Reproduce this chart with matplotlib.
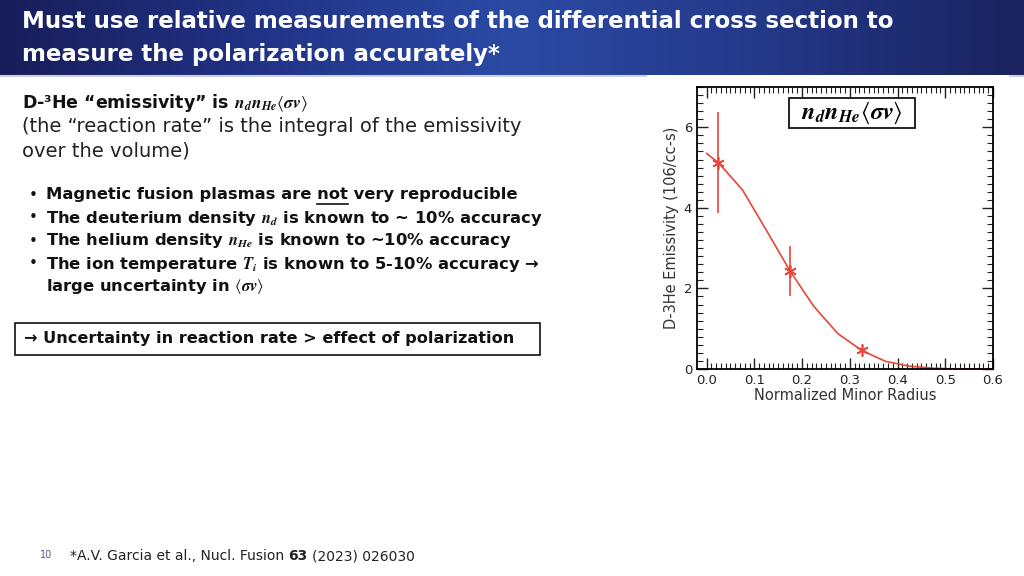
import numpy as np
import matplotlib.pyplot as plt
from matplotlib.colors import LinearSegmentedColormap

plt.rcParams['mathtext.fontset'] = 'stix'

# emissivity profile
radius = [0.0, 0.025, 0.075, 0.125, 0.175, 0.225, 0.275, 0.325, 0.375, 0.425, 0.475, 0.525, 0.575, 0.6]
emissivity = [5.35, 5.12, 4.45, 3.45, 2.43, 1.55, 0.88, 0.46, 0.19, 0.07, 0.02, 0.0, 0.0, 0.0]

# measured points with error bars
meas_r = [0.025, 0.175, 0.325]
meas_y = [5.12, 2.43, 0.46]
meas_err = [1.25, 0.62, 0.05]

title_lines = ["Must use relative measurements of the differential cross section to",
               "measure the polarization accurately*"]
bullets = [r"Magnetic fusion plasmas are not very reproducible",
           r"The deuterium density $\mathbfit{n_d}$ is known to ~ 10% accuracy",
           r"The helium density $\mathbfit{n_{He}}$ is known to ~10% accuracy",
           r"The ion temperature $\mathbfit{T_i}$ is known to 5-10% accuracy → ",
           r"large uncertainty in $\langle\mathbfit{\sigma v}\rangle$"]

red = '#e8463a'
body_font = 'DejaVu Sans'

fig = plt.figure(figsize=(10.24, 5.76), dpi=100)
bg = fig.add_axes([0, 0, 1, 1])
bg.axis('off')

# title banner
cmap = LinearSegmentedColormap.from_list('banner', ['#181e5a', '#213386', '#2b4aa4', '#243888', '#1a235e'])
grad = np.linspace(0, 1, 256).reshape(1, -1)
bg.imshow(grad, cmap=cmap, extent=[0, 1024, 75, 0], aspect='auto', zorder=0)
bg.plot([0, 646], [76.2, 76.2], color='#cdd0da', lw=1.5, zorder=1)
bg.plot([1010, 1024], [76.2, 76.2], color='#cdd0da', lw=1.5, zorder=1)
bg.set_xlim(0, 1024)
bg.set_ylim(576, 0)

for i, line in enumerate(title_lines):
    bg.text(22, 22 + 33 * i, line, color='white', fontsize=16.5, fontweight='bold',
            family='DejaVu Sans', va='center', ha='left')

fig.canvas.draw()
renderer = fig.canvas.get_renderer()

# left text block
bg.text(22, 103, r"D-³He “emissivity” is $\mathbfit{n_d n_{He}}\langle\mathbfit{\sigma v}\rangle$",
        fontsize=12.5, fontweight='bold', family=body_font, va='center', color='#111111')
bg.text(22, 126, "(the “reaction rate” is the integral of the emissivity",
        fontsize=14, family=body_font, va='center', color='#222222')
bg.text(22, 151, "over the volume)", fontsize=14, family=body_font, va='center', color='#222222')

for i, b in enumerate(bullets):
    y = 195 + 23 * i
    if i < 4:
        bg.text(29, y, "•", fontsize=11, family=body_font, va='center', color='#111111')
    bg.text(46, y, b, fontsize=11.8, fontweight='bold', family=body_font, va='center', color='#111111')

# underline "not"
pre = bg.text(46, 195, "Magnetic fusion plasmas are not", fontsize=11.8, fontweight='bold',
              family=body_font, va='center', alpha=0)
w_not = bg.text(0, 0, "not", fontsize=11.8, fontweight='bold', family=body_font, alpha=0)
x_end = 46 + pre.get_window_extent(renderer).width
x_start = x_end - w_not.get_window_extent(renderer).width
bg.plot([x_start, x_end], [204, 204], color='#111111', lw=1.2)

bg.add_patch(plt.Rectangle((15, 323), 525, 32, fill=False, edgecolor='#111111', lw=1.2))
bg.text(24, 339, "→ Uncertainty in reaction rate > effect of polarization", fontsize=11.6,
        fontweight='bold', family=body_font, va='center', color='#111111')

# footer
fs = 10
bg.text(40, 555, "10", fontsize=7, family=body_font, va='center', color='#55558a')
f1 = bg.text(70, 556, "*A.V. Garcia et al., Nucl. Fusion", fontsize=fs, family=body_font,
             va='center', color='#222222')
sp = bg.text(0, 0, "a a", fontsize=fs, family=body_font, alpha=0).get_window_extent(renderer).width - \
    bg.text(0, 0, "aa", fontsize=fs, family=body_font, alpha=0).get_window_extent(renderer).width
x = 70 + f1.get_window_extent(renderer).width + sp
f2 = bg.text(x, 556, "63", fontsize=fs, fontweight='bold', family=body_font, va='center', color='#222222')
x += f2.get_window_extent(renderer).width + sp
bg.text(x, 556, "(2023) 026030", fontsize=fs, family=body_font, va='center', color='#222222')

# emissivity chart
ax = fig.add_axes([697 / 1024, 1 - 369 / 576, 296 / 1024, 282 / 576])
ax.plot(radius, emissivity, color=red, lw=1.2)
ax.errorbar(meas_r, meas_y, yerr=meas_err, fmt='none', ecolor=red, elinewidth=1.2, capsize=0)
ax.plot(meas_r, meas_y, linestyle='none', marker=(6, 2, 0), markersize=9, color=red, mew=1.2)
ax.set_xlim(-0.02, 0.6)
ax.set_ylim(0, 7)
ax.set_xticks([0.0, 0.1, 0.2, 0.3, 0.4, 0.5, 0.6])
ax.set_xticklabels(['0.0', '0.1', '0.2', '0.3', '0.4', '0.5', '0.6'])
ax.set_yticks([0, 2, 4, 6])
ax.set_xticks(np.arange(0, 0.601, 0.01), minor=True)
ax.set_yticks(np.arange(0, 7.01, 0.2), minor=True)
ax.tick_params(which='both', direction='in', top=True, right=True, labelsize=9.5, colors='#222222')
ax.tick_params(which='major', length=8, width=1)
ax.tick_params(which='minor', length=4, width=0.8)
for s in ax.spines.values():
    s.set_linewidth(1.3)
ax.set_xlabel("Normalized Minor Radius", fontsize=10.5, family=body_font, labelpad=1, color='#333333')
ax.set_ylabel("D-3He Emissivity (106/cc-s)", fontsize=10.5, family=body_font, labelpad=3, color='#333333')

# label box inside the plot
ax.add_patch(plt.Rectangle((0.311, 0.855), 0.425, 0.106, transform=ax.transAxes, facecolor='white',
                           edgecolor='#111111', lw=1.3, zorder=5))
ax.text(0.5235, 0.907, r"$\mathbfit{n_d n_{He}}\langle\mathbfit{\sigma v}\rangle$", transform=ax.transAxes,
        ha='center', va='center', fontsize=17.5, zorder=6)

fig.savefig('out.png', dpi=100)
